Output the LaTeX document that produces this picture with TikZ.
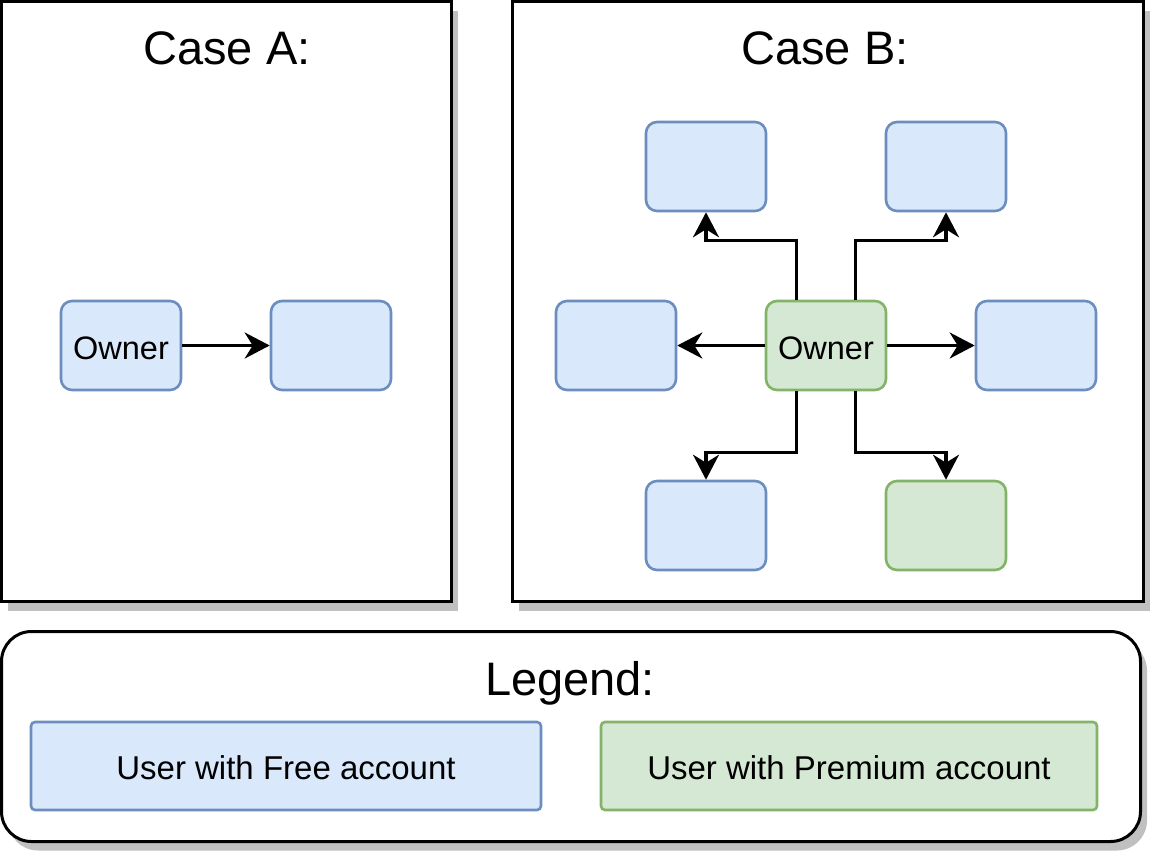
\documentclass[tikz,border=0pt]{standalone}
\usepackage{fontspec}
\setmainfont{Liberation Sans}
\usetikzlibrary{arrows.meta,shadows}
\definecolor{bfill}{HTML}{DAE8FC}
\definecolor{bline}{HTML}{6C8EBF}
\definecolor{gfill}{HTML}{D5E8D4}
\definecolor{gline}{HTML}{82B366}
\definecolor{shd}{HTML}{C0C0C0}
\newcommand{\lowertext}[2]{\raisebox{-#1}[\height][\depth]{#2}}
\tikzset{
  panel/.style={draw=black, line width=3pt, fill=white, inner sep=0pt,
    drop shadow={shadow xshift=6.5pt, shadow yshift=-9pt, fill=shd, opacity=1}},
  title/.style={font=\fontsize{47}{56}\selectfont, inner sep=0pt},
  free/.style={draw=bline, fill=bfill, line width=2.6pt, rounded corners=11pt,
    minimum width=120pt, minimum height=89pt, inner sep=0pt,
    font=\fontsize{32.5}{39}\selectfont},
  prem/.style={free, draw=gline, fill=gfill},
  legitem/.style={line width=2.6pt, rounded corners=4pt, minimum height=88pt,
    inner sep=0pt, font=\fontsize{33}{40}\selectfont},
  conn/.style={line width=3.2pt, draw=black,
    -{Stealth[length=25pt, width=26pt, inset=8pt]}},
}
\begin{document}
\begin{tikzpicture}[x=1pt,y=-1pt]
\useasboundingbox (0,0) rectangle (1152,855);
% panels
\node[panel, minimum width=450pt, minimum height=600pt] (caseA) at (226.5,301.5) {};
\node[panel, minimum width=631pt, minimum height=600pt] (caseB) at (827.5,301.5) {};
\node[panel, rounded corners=30pt, minimum width=1139pt, minimum height=210pt] (legend) at (571,736.5) {};
% titles
\node[title] (tA) at (227,48) {Case A:};
\node[title] (tB) at (825,48) {Case B:};
\node[title] (tL) at (570,683) {Legend:};
% case A
\node[free] (aown) at (121,345.5) {\lowertext{3pt}{Owner}};
\node[free] (aone) at (331,345.5) {};
\draw[conn] (aown.east) -- (aone.west);
% case B
\node[prem] (own) at (826,345.5) {\lowertext{3pt}{Owner}};
\node[free] (tl) at (706,166.5) {};
\node[free] (tr) at (946,166.5) {};
\node[free] (ml) at (616,345.5) {};
\node[free] (mr) at (1036,345.5) {};
\node[free] (bl) at (706,525.5) {};
\node[prem] (br) at (946,525.5) {};
\draw[conn] (own.west) -- (ml.east);
\draw[conn] (own.east) -- (mr.west);
\draw[conn] ([xshift=-29.5pt]own.north) -- ++(0,-59.5) -| (tl.south);
\draw[conn] ([xshift=29.5pt]own.north) -- ++(0,-59.5) -| (tr.south);
\draw[conn] ([xshift=-29.5pt]own.south) -- ++(0,61) -| (bl.north);
\draw[conn] ([xshift=29.5pt]own.south) -- ++(0,61) -| (br.north);
% legend items
\node[legitem, draw=bline, fill=bfill, minimum width=510pt] (lfree) at (286,766) {\lowertext{2pt}{User with Free account}};
\node[legitem, draw=gline, fill=gfill, minimum width=496pt] (lprem) at (849,766) {\lowertext{2pt}{User with Premium account}};
\end{tikzpicture}
\end{document}
